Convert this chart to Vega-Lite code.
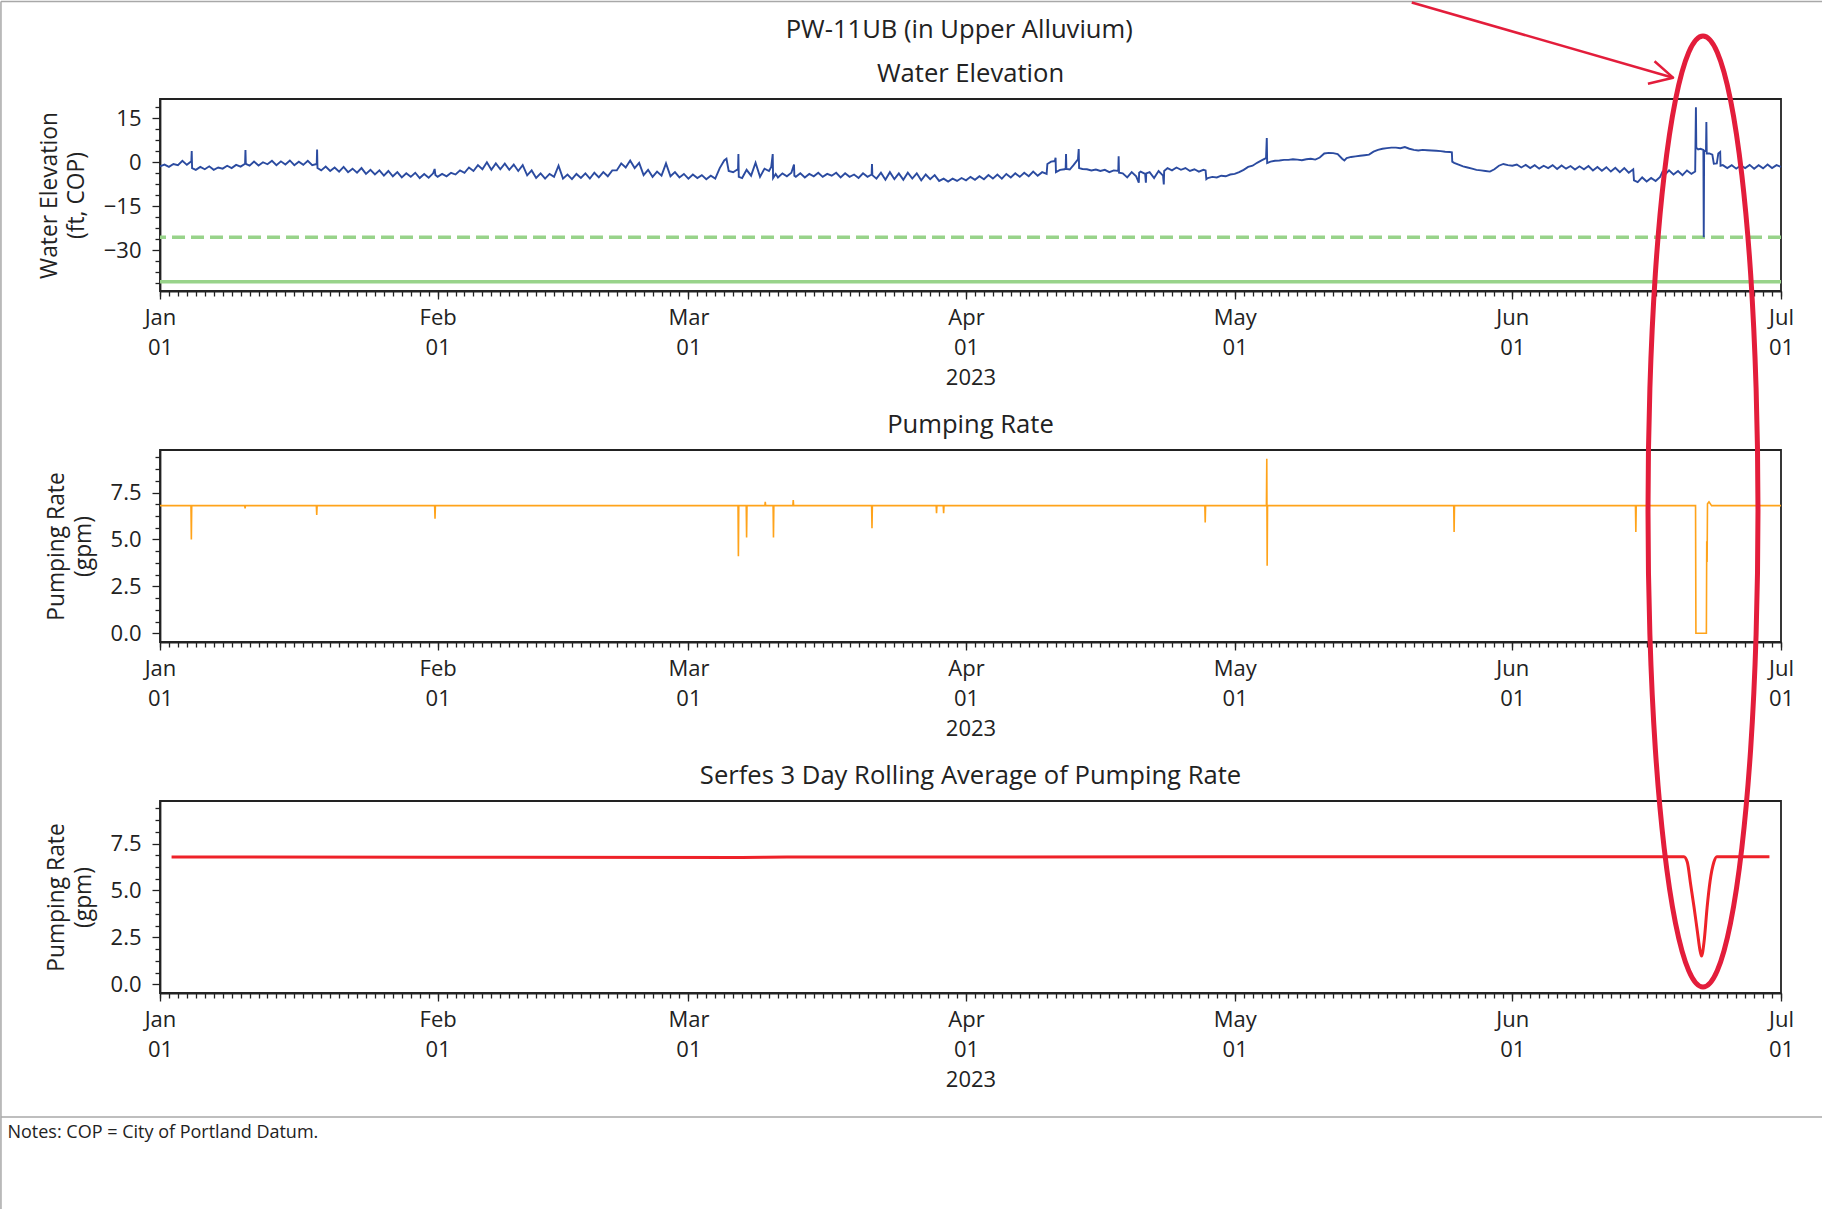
{
"$schema": "https://vega.github.io/schema/vega-lite/v6.json",
"padding": 0,
"background": "white",
"bounds": "flush",
"spacing": 159,
"resolve": {"scale": {"x": "independent", "y": "independent"}},
"datasets": {
"elev": [
{"t":"2023-01-01T00:00","v":-1.4},{"t":"2023-01-01T12:00","v":-0.8},
{"t":"2023-01-02T00:00","v":-1.6},{"t":"2023-01-02T12:00","v":-0.6},
{"t":"2023-01-03T00:00","v":-1.0},{"t":"2023-01-03T12:00","v":0.5},
{"t":"2023-01-04T00:00","v":-0.9},{"t":"2023-01-04T12:00","v":0.3},{"t":"2023-01-04T13:00","v":3.8},{"t":"2023-01-04T14:00","v":-2.0},
{"t":"2023-01-05T00:00","v":-2.6},{"t":"2023-01-05T12:00","v":-1.6},
{"t":"2023-01-06T00:00","v":-2.4},{"t":"2023-01-06T12:00","v":-1.4},
{"t":"2023-01-07T00:00","v":-2.6},{"t":"2023-01-07T12:00","v":-1.8},
{"t":"2023-01-08T00:00","v":-2.2},{"t":"2023-01-08T12:00","v":-1.2},
{"t":"2023-01-09T00:00","v":-2.0},{"t":"2023-01-09T12:00","v":-0.9},
{"t":"2023-01-10T00:00","v":-1.5},{"t":"2023-01-10T12:00","v":-0.5},{"t":"2023-01-10T13:00","v":4.2},{"t":"2023-01-10T14:00","v":-0.6},
{"t":"2023-01-11T00:00","v":-1.2},{"t":"2023-01-11T12:00","v":0.2},
{"t":"2023-01-12T00:00","v":-1.1},{"t":"2023-01-12T12:00","v":0.0},
{"t":"2023-01-13T00:00","v":-0.7},{"t":"2023-01-13T12:00","v":0.5},
{"t":"2023-01-14T00:00","v":-1.0},{"t":"2023-01-14T12:00","v":0.3},
{"t":"2023-01-15T00:00","v":-0.8},{"t":"2023-01-15T12:00","v":0.6},
{"t":"2023-01-16T00:00","v":-1.0},{"t":"2023-01-16T12:00","v":0.2},
{"t":"2023-01-17T00:00","v":-0.9},{"t":"2023-01-17T12:00","v":0.5},
{"t":"2023-01-18T00:00","v":-1.0},{"t":"2023-01-18T12:00","v":-0.6},{"t":"2023-01-18T13:00","v":4.3},{"t":"2023-01-18T14:00","v":-2.0},
{"t":"2023-01-19T00:00","v":-2.8},{"t":"2023-01-19T12:00","v":-1.5},
{"t":"2023-01-20T00:00","v":-3.0},{"t":"2023-01-20T12:00","v":-1.8},
{"t":"2023-01-21T00:00","v":-3.2},{"t":"2023-01-21T12:00","v":-1.6},
{"t":"2023-01-22T00:00","v":-3.4},{"t":"2023-01-22T12:00","v":-2.2},
{"t":"2023-01-23T00:00","v":-3.6},{"t":"2023-01-23T12:00","v":-2.0},
{"t":"2023-01-24T00:00","v":-4.0},{"t":"2023-01-24T12:00","v":-2.6},
{"t":"2023-01-25T00:00","v":-4.2},{"t":"2023-01-25T12:00","v":-2.8},
{"t":"2023-01-26T00:00","v":-4.6},{"t":"2023-01-26T12:00","v":-3.0},
{"t":"2023-01-27T00:00","v":-4.8},{"t":"2023-01-27T12:00","v":-3.4},
{"t":"2023-01-28T00:00","v":-5.2},{"t":"2023-01-28T12:00","v":-3.8},
{"t":"2023-01-29T00:00","v":-5.0},{"t":"2023-01-29T12:00","v":-3.6},
{"t":"2023-01-30T00:00","v":-5.4},{"t":"2023-01-30T12:00","v":-4.0},
{"t":"2023-01-31T00:00","v":-5.3},{"t":"2023-01-31T12:00","v":-3.8},{"t":"2023-01-31T16:00","v":-2.3},{"t":"2023-01-31T18:00","v":-4.4},
{"t":"2023-02-01T00:00","v":-5.0},{"t":"2023-02-01T12:00","v":-4.0},
{"t":"2023-02-02T00:00","v":-4.8},{"t":"2023-02-02T12:00","v":-3.6},
{"t":"2023-02-03T00:00","v":-4.2},{"t":"2023-02-03T12:00","v":-2.8},
{"t":"2023-02-04T00:00","v":-3.6},{"t":"2023-02-04T12:00","v":-1.8},
{"t":"2023-02-05T00:00","v":-3.0},{"t":"2023-02-05T12:00","v":-1.0},
{"t":"2023-02-06T00:00","v":-2.4},{"t":"2023-02-06T12:00","v":0.0},
{"t":"2023-02-07T00:00","v":-2.6},{"t":"2023-02-07T12:00","v":-0.4},
{"t":"2023-02-08T00:00","v":-2.4},{"t":"2023-02-08T12:00","v":-0.5},
{"t":"2023-02-09T00:00","v":-2.6},{"t":"2023-02-09T12:00","v":-0.8},
{"t":"2023-02-10T00:00","v":-3.0},{"t":"2023-02-10T12:00","v":-1.0},
{"t":"2023-02-11T00:00","v":-4.5},{"t":"2023-02-11T12:00","v":-2.8},
{"t":"2023-02-12T00:00","v":-5.4},{"t":"2023-02-12T12:00","v":-3.8},
{"t":"2023-02-13T00:00","v":-5.6},{"t":"2023-02-13T12:00","v":-4.0},
{"t":"2023-02-14T00:00","v":-5.0},{"t":"2023-02-14T12:00","v":-1.2},
{"t":"2023-02-15T00:00","v":-5.6},{"t":"2023-02-15T12:00","v":-4.2},
{"t":"2023-02-16T00:00","v":-5.8},{"t":"2023-02-16T12:00","v":-4.0},
{"t":"2023-02-17T00:00","v":-5.4},{"t":"2023-02-17T12:00","v":-3.8},
{"t":"2023-02-18T00:00","v":-5.6},{"t":"2023-02-18T12:00","v":-3.6},
{"t":"2023-02-19T00:00","v":-5.2},{"t":"2023-02-19T12:00","v":-3.4},
{"t":"2023-02-20T00:00","v":-4.8},{"t":"2023-02-20T12:00","v":-2.8},
{"t":"2023-02-21T00:00","v":-2.8},{"t":"2023-02-21T12:00","v":-0.4},
{"t":"2023-02-22T00:00","v":-1.8},{"t":"2023-02-22T12:00","v":0.6},
{"t":"2023-02-23T00:00","v":-2.0},{"t":"2023-02-23T12:00","v":-0.2},
{"t":"2023-02-24T00:00","v":-4.4},{"t":"2023-02-24T12:00","v":-2.6},
{"t":"2023-02-25T00:00","v":-5.0},{"t":"2023-02-25T12:00","v":-3.2},
{"t":"2023-02-26T00:00","v":-4.6},{"t":"2023-02-26T12:00","v":-0.4},
{"t":"2023-02-27T00:00","v":-4.8},{"t":"2023-02-27T12:00","v":-3.4},
{"t":"2023-02-28T00:00","v":-5.2},{"t":"2023-02-28T12:00","v":-4.0},
{"t":"2023-03-01T00:00","v":-5.6},{"t":"2023-03-01T12:00","v":-4.2},
{"t":"2023-03-02T00:00","v":-5.4},{"t":"2023-03-02T12:00","v":-4.4},
{"t":"2023-03-03T00:00","v":-5.8},{"t":"2023-03-03T12:00","v":-4.6},
{"t":"2023-03-04T00:00","v":-5.6},{"t":"2023-03-04T12:00","v":-2.0},
{"t":"2023-03-05T00:00","v":0.6},{"t":"2023-03-05T06:00","v":1.2},{"t":"2023-03-05T12:00","v":-3.0},
{"t":"2023-03-06T00:00","v":-3.4},{"t":"2023-03-06T12:00","v":-2.4},{"t":"2023-03-06T13:00","v":-2.6},{"t":"2023-03-06T14:00","v":2.8},{"t":"2023-03-06T15:00","v":-5.0},
{"t":"2023-03-07T00:00","v":-5.4},{"t":"2023-03-07T12:00","v":-2.6},
{"t":"2023-03-08T00:00","v":-4.6},{"t":"2023-03-08T12:00","v":-0.2},
{"t":"2023-03-09T00:00","v":-5.0},{"t":"2023-03-09T12:00","v":-2.2},
{"t":"2023-03-10T00:00","v":-3.0},{"t":"2023-03-10T06:00","v":-1.6},{"t":"2023-03-10T10:00","v":2.8},{"t":"2023-03-10T11:00","v":-5.4},{"t":"2023-03-10T18:00","v":-4.0},
{"t":"2023-03-11T00:00","v":-5.2},{"t":"2023-03-11T12:00","v":-3.8},
{"t":"2023-03-12T00:00","v":-4.8},{"t":"2023-03-12T12:00","v":-3.6},{"t":"2023-03-12T19:00","v":-0.8},{"t":"2023-03-12T20:00","v":-4.6},
{"t":"2023-03-13T00:00","v":-5.0},{"t":"2023-03-13T12:00","v":-3.8},
{"t":"2023-03-14T00:00","v":-5.2},{"t":"2023-03-14T12:00","v":-4.0},
{"t":"2023-03-15T00:00","v":-4.8},{"t":"2023-03-15T12:00","v":-3.6},
{"t":"2023-03-16T00:00","v":-5.0},{"t":"2023-03-16T12:00","v":-4.0},
{"t":"2023-03-17T00:00","v":-4.6},{"t":"2023-03-17T12:00","v":-3.6},
{"t":"2023-03-18T00:00","v":-5.2},{"t":"2023-03-18T12:00","v":-3.8},
{"t":"2023-03-19T00:00","v":-5.0},{"t":"2023-03-19T12:00","v":-4.2},
{"t":"2023-03-20T00:00","v":-5.4},{"t":"2023-03-20T12:00","v":-3.8},
{"t":"2023-03-21T00:00","v":-5.0},{"t":"2023-03-21T11:00","v":-4.2},{"t":"2023-03-21T12:00","v":-0.6},{"t":"2023-03-21T13:00","v":-4.4},
{"t":"2023-03-22T00:00","v":-5.6},{"t":"2023-03-22T12:00","v":-3.6},
{"t":"2023-03-23T00:00","v":-6.0},{"t":"2023-03-23T12:00","v":-3.4},
{"t":"2023-03-24T00:00","v":-5.8},{"t":"2023-03-24T12:00","v":-3.8},
{"t":"2023-03-25T00:00","v":-6.0},{"t":"2023-03-25T12:00","v":-3.6},
{"t":"2023-03-26T00:00","v":-5.6},{"t":"2023-03-26T12:00","v":-3.8},
{"t":"2023-03-27T00:00","v":-6.2},{"t":"2023-03-27T12:00","v":-4.2},
{"t":"2023-03-28T00:00","v":-5.8},{"t":"2023-03-28T12:00","v":-4.4},
{"t":"2023-03-29T00:00","v":-6.4},{"t":"2023-03-29T12:00","v":-5.6},
{"t":"2023-03-30T00:00","v":-6.6},{"t":"2023-03-30T12:00","v":-5.6},
{"t":"2023-03-31T00:00","v":-6.4},{"t":"2023-03-31T12:00","v":-5.4},
{"t":"2023-04-01T00:00","v":-6.2},{"t":"2023-04-01T12:00","v":-5.0},
{"t":"2023-04-02T00:00","v":-6.0},{"t":"2023-04-02T12:00","v":-4.8},
{"t":"2023-04-03T00:00","v":-5.8},{"t":"2023-04-03T12:00","v":-4.4},
{"t":"2023-04-04T00:00","v":-5.6},{"t":"2023-04-04T12:00","v":-4.2},
{"t":"2023-04-05T00:00","v":-5.6},{"t":"2023-04-05T12:00","v":-4.0},
{"t":"2023-04-06T00:00","v":-5.2},{"t":"2023-04-06T12:00","v":-3.8},
{"t":"2023-04-07T00:00","v":-5.0},{"t":"2023-04-07T12:00","v":-3.6},
{"t":"2023-04-08T00:00","v":-4.8},{"t":"2023-04-08T12:00","v":-3.2},
{"t":"2023-04-09T00:00","v":-4.6},{"t":"2023-04-09T12:00","v":-3.4},
{"t":"2023-04-10T00:00","v":-4.0},{"t":"2023-04-10T02:00","v":-0.6},{"t":"2023-04-10T12:00","v":0.2},{"t":"2023-04-10T22:00","v":0.4},
{"t":"2023-04-11T00:00","v":1.5},{"t":"2023-04-11T01:00","v":-3.4},{"t":"2023-04-11T12:00","v":-2.6},
{"t":"2023-04-12T00:00","v":-2.4},{"t":"2023-04-12T03:00","v":-2.2},{"t":"2023-04-12T04:00","v":2.8},{"t":"2023-04-12T05:00","v":-2.3},{"t":"2023-04-12T14:00","v":-2.5},
{"t":"2023-04-13T00:00","v":-1.0},{"t":"2023-04-13T12:00","v":1.0},{"t":"2023-04-13T14:00","v":4.5},{"t":"2023-04-13T15:00","v":-2.0},
{"t":"2023-04-14T00:00","v":-2.3},{"t":"2023-04-14T12:00","v":-2.4},
{"t":"2023-04-15T00:00","v":-2.8},{"t":"2023-04-15T12:00","v":-2.5},
{"t":"2023-04-16T00:00","v":-3.0},{"t":"2023-04-16T12:00","v":-2.6},
{"t":"2023-04-17T00:00","v":-3.4},{"t":"2023-04-17T12:00","v":-2.8},
{"t":"2023-04-18T00:00","v":-3.0},{"t":"2023-04-18T01:00","v":2.0},{"t":"2023-04-18T02:00","v":-3.6},{"t":"2023-04-18T12:00","v":-3.8},
{"t":"2023-04-19T00:00","v":-5.2},{"t":"2023-04-19T12:00","v":-3.4},
{"t":"2023-04-20T00:00","v":-4.8},{"t":"2023-04-20T07:00","v":-7.0},{"t":"2023-04-20T08:00","v":-3.6},{"t":"2023-04-20T12:00","v":-3.2},
{"t":"2023-04-21T00:00","v":-4.0},{"t":"2023-04-21T02:00","v":-7.0},{"t":"2023-04-21T03:00","v":-3.8},{"t":"2023-04-21T12:00","v":-3.4},
{"t":"2023-04-22T00:00","v":-5.4},{"t":"2023-04-22T12:00","v":-3.0},
{"t":"2023-04-23T00:00","v":-4.6},{"t":"2023-04-23T02:00","v":-7.6},{"t":"2023-04-23T03:00","v":-3.0},{"t":"2023-04-23T12:00","v":-2.0},
{"t":"2023-04-24T00:00","v":-2.8},{"t":"2023-04-24T12:00","v":-1.8},
{"t":"2023-04-25T00:00","v":-2.6},{"t":"2023-04-25T12:00","v":-2.0},
{"t":"2023-04-26T00:00","v":-3.0},{"t":"2023-04-26T12:00","v":-2.4},
{"t":"2023-04-27T00:00","v":-3.2},{"t":"2023-04-27T12:00","v":-2.6},{"t":"2023-04-27T18:00","v":-2.8},{"t":"2023-04-27T20:00","v":-5.8},
{"t":"2023-04-28T00:00","v":-5.4},{"t":"2023-04-28T12:00","v":-5.0},
{"t":"2023-04-29T00:00","v":-5.2},{"t":"2023-04-29T12:00","v":-4.6},
{"t":"2023-04-30T00:00","v":-4.8},{"t":"2023-04-30T12:00","v":-4.2},
{"t":"2023-05-01T00:00","v":-4.0},{"t":"2023-05-01T12:00","v":-3.4},
{"t":"2023-05-02T00:00","v":-2.6},{"t":"2023-05-02T12:00","v":-1.6},
{"t":"2023-05-03T00:00","v":-1.2},{"t":"2023-05-03T12:00","v":-0.2},
{"t":"2023-05-04T00:00","v":0.6},{"t":"2023-05-04T12:00","v":1.4},{"t":"2023-05-04T14:00","v":8.3},{"t":"2023-05-04T15:00","v":-0.3},
{"t":"2023-05-05T00:00","v":0.2},{"t":"2023-05-05T12:00","v":0.5},
{"t":"2023-05-06T00:00","v":0.6},{"t":"2023-05-06T12:00","v":0.8},
{"t":"2023-05-07T00:00","v":0.8},{"t":"2023-05-07T12:00","v":1.0},
{"t":"2023-05-08T00:00","v":0.9},{"t":"2023-05-08T12:00","v":0.7},
{"t":"2023-05-09T00:00","v":1.0},{"t":"2023-05-09T12:00","v":1.2},
{"t":"2023-05-10T00:00","v":0.9},{"t":"2023-05-10T12:00","v":1.6},
{"t":"2023-05-11T00:00","v":3.0},{"t":"2023-05-11T12:00","v":3.2},
{"t":"2023-05-12T00:00","v":3.1},{"t":"2023-05-12T12:00","v":2.8},
{"t":"2023-05-13T00:00","v":1.2},{"t":"2023-05-13T06:00","v":0.6},{"t":"2023-05-13T12:00","v":1.4},
{"t":"2023-05-14T00:00","v":1.8},{"t":"2023-05-14T12:00","v":2.0},
{"t":"2023-05-15T00:00","v":2.2},{"t":"2023-05-15T12:00","v":2.4},
{"t":"2023-05-16T00:00","v":2.6},{"t":"2023-05-16T12:00","v":3.6},
{"t":"2023-05-17T00:00","v":4.2},{"t":"2023-05-17T12:00","v":4.6},
{"t":"2023-05-18T00:00","v":4.8},{"t":"2023-05-18T12:00","v":5.0},
{"t":"2023-05-19T00:00","v":5.0},{"t":"2023-05-19T12:00","v":4.8},
{"t":"2023-05-20T00:00","v":5.2},{"t":"2023-05-20T12:00","v":4.6},
{"t":"2023-05-21T00:00","v":4.2},{"t":"2023-05-21T12:00","v":4.0},
{"t":"2023-05-22T00:00","v":4.2},{"t":"2023-05-22T12:00","v":4.1},
{"t":"2023-05-23T00:00","v":4.0},{"t":"2023-05-23T12:00","v":3.9},
{"t":"2023-05-24T00:00","v":3.8},{"t":"2023-05-24T12:00","v":3.6},
{"t":"2023-05-25T00:00","v":3.5},{"t":"2023-05-25T06:00","v":3.4},{"t":"2023-05-25T07:00","v":0.2},{"t":"2023-05-25T12:00","v":-0.2},
{"t":"2023-05-26T00:00","v":-0.8},{"t":"2023-05-26T12:00","v":-1.4},
{"t":"2023-05-27T00:00","v":-1.8},{"t":"2023-05-27T12:00","v":-2.2},
{"t":"2023-05-28T00:00","v":-2.6},{"t":"2023-05-28T12:00","v":-2.8},
{"t":"2023-05-29T00:00","v":-3.0},{"t":"2023-05-29T12:00","v":-3.2},
{"t":"2023-05-30T00:00","v":-2.4},{"t":"2023-05-30T12:00","v":-1.2},
{"t":"2023-05-31T00:00","v":-0.6},{"t":"2023-05-31T12:00","v":-1.0},
{"t":"2023-06-01T00:00","v":-1.2},{"t":"2023-06-01T12:00","v":-0.8},
{"t":"2023-06-02T00:00","v":-1.8},{"t":"2023-06-02T12:00","v":-0.9},
{"t":"2023-06-03T00:00","v":-2.0},{"t":"2023-06-03T12:00","v":-1.0},
{"t":"2023-06-04T00:00","v":-2.2},{"t":"2023-06-04T12:00","v":-1.2},
{"t":"2023-06-05T00:00","v":-2.0},{"t":"2023-06-05T12:00","v":-1.0},
{"t":"2023-06-06T00:00","v":-2.3},{"t":"2023-06-06T12:00","v":-1.1},
{"t":"2023-06-07T00:00","v":-2.2},{"t":"2023-06-07T12:00","v":-1.3},
{"t":"2023-06-08T00:00","v":-2.5},{"t":"2023-06-08T12:00","v":-1.4},
{"t":"2023-06-09T00:00","v":-2.4},{"t":"2023-06-09T12:00","v":-1.3},
{"t":"2023-06-10T00:00","v":-2.8},{"t":"2023-06-10T12:00","v":-1.6},
{"t":"2023-06-11T00:00","v":-2.9},{"t":"2023-06-11T12:00","v":-1.7},
{"t":"2023-06-12T00:00","v":-3.2},{"t":"2023-06-12T12:00","v":-1.9},
{"t":"2023-06-13T00:00","v":-3.4},{"t":"2023-06-13T12:00","v":-2.0},
{"t":"2023-06-14T00:00","v":-3.6},{"t":"2023-06-14T12:00","v":-2.4},{"t":"2023-06-14T14:00","v":-6.2},
{"t":"2023-06-15T00:00","v":-6.8},{"t":"2023-06-15T12:00","v":-5.2},
{"t":"2023-06-16T00:00","v":-6.6},{"t":"2023-06-16T12:00","v":-5.4},
{"t":"2023-06-17T00:00","v":-6.4},{"t":"2023-06-17T12:00","v":-5.0},{"t":"2023-06-17T18:00","v":-3.4},
{"t":"2023-06-18T00:00","v":-4.4},{"t":"2023-06-18T12:00","v":-2.8},
{"t":"2023-06-19T00:00","v":-4.2},{"t":"2023-06-19T12:00","v":-3.0},
{"t":"2023-06-20T00:00","v":-4.4},{"t":"2023-06-20T12:00","v":-2.8},
{"t":"2023-06-21T00:00","v":-4.0},{"t":"2023-06-21T10:00","v":-3.2},{"t":"2023-06-21T12:00","v":18.8},{"t":"2023-06-21T13:00","v":5.0},{"t":"2023-06-21T18:00","v":4.4},
{"t":"2023-06-22T00:00","v":4.6},{"t":"2023-06-22T08:00","v":4.2},{"t":"2023-06-22T09:00","v":-25.6},{"t":"2023-06-22T10:00","v":3.8},{"t":"2023-06-22T15:00","v":4.0},{"t":"2023-06-22T16:00","v":13.7},{"t":"2023-06-22T17:00","v":3.0},
{"t":"2023-06-23T00:00","v":3.0},{"t":"2023-06-23T08:00","v":2.6},{"t":"2023-06-23T12:00","v":-0.5},{"t":"2023-06-23T20:00","v":-0.4},
{"t":"2023-06-24T00:00","v":3.0},{"t":"2023-06-24T05:00","v":3.5},{"t":"2023-06-24T06:00","v":-1.2},{"t":"2023-06-24T12:00","v":-1.0},
{"t":"2023-06-25T00:00","v":-2.0},{"t":"2023-06-25T12:00","v":-1.0},
{"t":"2023-06-26T00:00","v":-2.2},{"t":"2023-06-26T12:00","v":-1.1},
{"t":"2023-06-27T00:00","v":-2.0},{"t":"2023-06-27T12:00","v":-0.9},
{"t":"2023-06-28T00:00","v":-2.2},{"t":"2023-06-28T12:00","v":-1.0},
{"t":"2023-06-29T00:00","v":-2.1},{"t":"2023-06-29T12:00","v":-0.8},
{"t":"2023-06-30T00:00","v":-2.0},{"t":"2023-06-30T12:00","v":-1.0},
{"t":"2023-07-01T00:00","v":-1.6}
],
"pump": [
{"t":"2023-01-01T00:00","v":6.8},
{"t":"2023-01-04T11:00","v":6.8},{"t":"2023-01-04T12:00","v":5.0},{"t":"2023-01-04T13:00","v":6.8},
{"t":"2023-01-10T11:00","v":6.8},{"t":"2023-01-10T12:00","v":6.65},{"t":"2023-01-10T13:00","v":6.8},
{"t":"2023-01-18T11:00","v":6.8},{"t":"2023-01-18T12:00","v":6.3},{"t":"2023-01-18T13:00","v":6.8},
{"t":"2023-01-31T16:00","v":6.8},{"t":"2023-01-31T17:00","v":6.1},{"t":"2023-01-31T18:00","v":6.8},
{"t":"2023-03-06T13:00","v":6.8},{"t":"2023-03-06T14:00","v":4.1},{"t":"2023-03-06T15:00","v":6.8},
{"t":"2023-03-07T11:00","v":6.8},{"t":"2023-03-07T12:00","v":5.1},{"t":"2023-03-07T13:00","v":6.8},
{"t":"2023-03-09T13:00","v":6.8},{"t":"2023-03-09T14:00","v":7.0},{"t":"2023-03-09T15:00","v":6.8},
{"t":"2023-03-10T11:00","v":6.8},{"t":"2023-03-10T12:00","v":5.1},{"t":"2023-03-10T13:00","v":6.8},
{"t":"2023-03-12T16:00","v":6.8},{"t":"2023-03-12T17:00","v":7.1},{"t":"2023-03-12T18:00","v":6.8},
{"t":"2023-03-21T11:00","v":6.8},{"t":"2023-03-21T12:00","v":5.6},{"t":"2023-03-21T13:00","v":6.8},
{"t":"2023-03-28T16:00","v":6.8},{"t":"2023-03-28T17:00","v":6.4},{"t":"2023-03-28T18:00","v":6.8},
{"t":"2023-03-29T11:00","v":6.8},{"t":"2023-03-29T12:00","v":6.4},{"t":"2023-03-29T13:00","v":6.8},
{"t":"2023-04-27T16:00","v":6.8},{"t":"2023-04-27T17:00","v":5.9},{"t":"2023-04-27T18:00","v":6.8},
{"t":"2023-05-04T13:00","v":6.8},{"t":"2023-05-04T14:00","v":9.3},{"t":"2023-05-04T15:00","v":3.6},{"t":"2023-05-04T16:00","v":6.8},
{"t":"2023-05-25T11:00","v":6.8},{"t":"2023-05-25T12:00","v":5.4},{"t":"2023-05-25T13:00","v":6.8},
{"t":"2023-06-14T18:00","v":6.8},{"t":"2023-06-14T19:00","v":5.4},{"t":"2023-06-14T20:00","v":6.8},
{"t":"2023-06-21T11:00","v":6.8},{"t":"2023-06-21T12:00","v":0.0},{"t":"2023-06-22T16:00","v":0.0},{"t":"2023-06-22T17:00","v":4.9},{"t":"2023-06-22T18:00","v":3.8},{"t":"2023-06-22T19:00","v":6.9},{"t":"2023-06-22T23:00","v":7.0},{"t":"2023-06-23T06:00","v":6.8},
{"t":"2023-07-01T00:00","v":6.8}
],
"roll": [
{"t":"2023-01-02T07:00","v":6.78},
{"t":"2023-03-07T00:00","v":6.76},
{"t":"2023-03-12T00:00","v":6.78},
{"t":"2023-06-20T04:00","v":6.8},
{"t":"2023-06-20T13:00","v":6.5},
{"t":"2023-06-20T22:00","v":5.3},
{"t":"2023-06-21T07:00","v":4.1},
{"t":"2023-06-21T16:00","v":2.8},
{"t":"2023-06-21T23:00","v":1.8},
{"t":"2023-06-22T03:00","v":1.5},
{"t":"2023-06-22T10:00","v":2.3},
{"t":"2023-06-22T18:00","v":4.1},
{"t":"2023-06-23T02:00","v":5.5},
{"t":"2023-06-23T12:00","v":6.5},
{"t":"2023-06-23T20:00","v":6.8},
{"t":"2023-06-29T17:00","v":6.8}
],
"frame": [
{"g":"left","k":0,"t":"2022-12-14T05:46","v":54.91},{"g":"left","k":1,"t":"2022-12-14T05:46","v":-357.66},
{"g":"top","k":0,"t":"2022-12-14T05:46","v":54.91},{"g":"top","k":1,"t":"2023-07-05T13:55","v":54.91},
{"g":"sep","k":0,"t":"2022-12-14T05:46","v":-326.22},{"g":"sep","k":1,"t":"2023-07-05T13:55","v":-326.22}
],
"arrow": [
{"g":"shaft","k":0,"t":"2023-05-20T18:29","v":54.57},{"g":"shaft","k":1,"t":"2023-06-18T22:48","v":28.88},
{"g":"head","k":0,"t":"2023-06-16T21:07","v":34.48},{"g":"head","k":1,"t":"2023-06-18T22:48","v":28.88},{"g":"head","k":2,"t":"2023-06-16T03:22","v":26.83}
],
"ellipse": [
{"k":0,"t":"2023-06-28T10:19","v":-119.33},
{"k":1,"t":"2023-06-28T05:17","v":-77.29},
{"k":2,"t":"2023-06-27T14:38","v":-38.10},
{"k":3,"t":"2023-06-26T15:07","v":-4.46},
{"k":4,"t":"2023-06-25T08:38","v":21.35},
{"k":5,"t":"2023-06-23T21:07","v":37.58},
{"k":6,"t":"2023-06-22T06:58","v":43.12},
{"k":7,"t":"2023-06-20T16:48","v":37.58},
{"k":8,"t":"2023-06-19T05:17","v":21.35},
{"k":9,"t":"2023-06-17T22:48","v":-4.46},
{"k":10,"t":"2023-06-16T23:17","v":-38.10},
{"k":11,"t":"2023-06-16T08:38","v":-77.29},
{"k":12,"t":"2023-06-16T03:36","v":-119.33},
{"k":13,"t":"2023-06-16T08:38","v":-161.37},
{"k":14,"t":"2023-06-16T23:17","v":-200.56},
{"k":15,"t":"2023-06-17T22:48","v":-234.20},
{"k":16,"t":"2023-06-19T05:17","v":-260.01},
{"k":17,"t":"2023-06-20T16:48","v":-276.24},
{"k":18,"t":"2023-06-22T06:58","v":-281.78},
{"k":19,"t":"2023-06-23T21:07","v":-276.24},
{"k":20,"t":"2023-06-25T08:38","v":-260.01},
{"k":21,"t":"2023-06-26T15:07","v":-234.20},
{"k":22,"t":"2023-06-27T14:38","v":-200.56},
{"k":23,"t":"2023-06-28T05:17","v":-161.37}
],
"notes": [
{"t":"2022-12-14T23:10","v":-331.52,"label":"Notes: COP = City of Portland Datum."}
],
"heading": [
{"t":"2023-03-31T05:46","v":45.0,"label":"PW-11UB (in Upper Alluvium)"}
]
},
"vconcat": [
{
"width": 1621, "height": 192,
"title": "Water Elevation",
"resolve": {"axis": {"x": "independent", "y": "independent"}},
"layer": [
{"data": {"values": [{"level": -40.8}]}, "mark": {"type": "rule", "color": "#98d38a", "strokeWidth": 3.5}, "encoding": {"y": {"field": "level", "type": "quantitative", "axis": null}}},
{"data": {"values": [{"level": -25.6}]}, "mark": {"type": "rule", "color": "#98d38a", "strokeWidth": 3.5, "strokeDash": [13, 6]}, "encoding": {"y": {"field": "level", "type": "quantitative", "axis": null}}},
{"data": {"name": "elev"}, "mark": {"type": "line", "color": "#2b4ba0", "strokeWidth": 1.9},
 "encoding": {
  "x": {"field": "t", "type": "temporal", "scale": {"domain": [{"year": 2023, "month": 1, "date": 1}, {"year": 2023, "month": 7, "date": 1}], "nice": false},
   "axis": {"orient": "bottom", "title": "2023", "values": [{"year": 2023, "month": 1, "date": 1}, {"year": 2023, "month": 2, "date": 1}, {"year": 2023, "month": 3, "date": 1}, {"year": 2023, "month": 4, "date": 1}, {"year": 2023, "month": 5, "date": 1}, {"year": 2023, "month": 6, "date": 1}, {"year": 2023, "month": 7, "date": 1}], "labelExpr": "[timeFormat(datum.value, '%b'), timeFormat(datum.value, '%d')]", "tickSize": 8, "labelOverlap": false, "labelFlush": false, "labelBound": false, "labelPadding": 8, "labelLineHeight": 30, "titlePadding": 9, "titleFontSize": 22}},
  "y": {"field": "v", "type": "quantitative", "scale": {"domain": [-44, 21.6], "nice": false, "zero": false},
   "axis": {"orient": "left", "title": ["Water Elevation", "(ft, COP)"], "values": [-30, -15, 0, 15], "format": "d", "tickSize": 8, "labelOverlap": false, "labelPadding": 11, "titlePadding": 15, "titleLineHeight": 27}}
 }},
{"data": {"name": "elev"}, "mark": {"type": "line", "opacity": 0},
 "encoding": {
  "x": {"field": "t", "type": "temporal", "scale": {"domain": [{"year": 2023, "month": 1, "date": 1}, {"year": 2023, "month": 7, "date": 1}], "nice": false},
   "axis": {"orient": "bottom", "title": null, "tickCount": {"interval": "day", "step": 1}, "labels": false, "domain": false, "tickSize": 5}},
  "y": {"field": "v", "type": "quantitative",
   "axis": {"orient": "left", "title": null, "values": [-41.25,-37.5,-33.75,-26.25,-22.5,-18.75,-11.25,-7.5,-3.75,3.75,7.5,11.25,18.75], "labels": false, "domain": false, "tickSize": 5}}
 }}
]
},
{
"width": 1621, "height": 192,
"title": "Pumping Rate",
"data": {"name": "pump"},
"resolve": {"axis": {"x": "independent", "y": "independent"}},
"layer": [
{"mark": {"type": "line", "color": "#ffa31a", "strokeWidth": 1.6},
 "encoding": {
  "x": {"field": "t", "type": "temporal", "scale": {"domain": [{"year": 2023, "month": 1, "date": 1}, {"year": 2023, "month": 7, "date": 1}], "nice": false},
   "axis": {"orient": "bottom", "title": "2023", "values": [{"year": 2023, "month": 1, "date": 1}, {"year": 2023, "month": 2, "date": 1}, {"year": 2023, "month": 3, "date": 1}, {"year": 2023, "month": 4, "date": 1}, {"year": 2023, "month": 5, "date": 1}, {"year": 2023, "month": 6, "date": 1}, {"year": 2023, "month": 7, "date": 1}], "labelExpr": "[timeFormat(datum.value, '%b'), timeFormat(datum.value, '%d')]", "tickSize": 8, "labelOverlap": false, "labelFlush": false, "labelBound": false, "labelPadding": 8, "labelLineHeight": 30, "titlePadding": 9, "titleFontSize": 22}},
  "y": {"field": "v", "type": "quantitative", "scale": {"domain": [-0.465, 9.765], "nice": false, "zero": false},
   "axis": {"orient": "left", "title": ["Pumping Rate", "(gpm)"], "values": [0, 2.5, 5, 7.5], "format": ".1f", "tickSize": 8, "labelOverlap": false, "labelPadding": 11, "titlePadding": 15, "titleLineHeight": 27}}
 }},
{"mark": {"type": "line", "opacity": 0},
 "encoding": {
  "x": {"field": "t", "type": "temporal", "scale": {"domain": [{"year": 2023, "month": 1, "date": 1}, {"year": 2023, "month": 7, "date": 1}], "nice": false},
   "axis": {"orient": "bottom", "title": null, "tickCount": {"interval": "day", "step": 1}, "labels": false, "domain": false, "tickSize": 5}},
  "y": {"field": "v", "type": "quantitative",
   "axis": {"orient": "left", "title": null, "values": [0.625,1.25,1.875,3.125,3.75,4.375,5.625,6.25,6.875,8.125,8.75,9.375], "labels": false, "domain": false, "tickSize": 5}}
 }}
]
},
{
"width": 1621, "height": 192,
"title": "Serfes 3 Day Rolling Average of Pumping Rate",
"data": {"name": "roll"},
"resolve": {"axis": {"x": "independent", "y": "independent"}},
"layer": [
{"mark": {"type": "line", "color": "#ee2229", "strokeWidth": 3, "interpolate": "monotone"},
 "encoding": {
  "x": {"field": "t", "type": "temporal", "scale": {"domain": [{"year": 2023, "month": 1, "date": 1}, {"year": 2023, "month": 7, "date": 1}], "nice": false},
   "axis": {"orient": "bottom", "title": "2023", "values": [{"year": 2023, "month": 1, "date": 1}, {"year": 2023, "month": 2, "date": 1}, {"year": 2023, "month": 3, "date": 1}, {"year": 2023, "month": 4, "date": 1}, {"year": 2023, "month": 5, "date": 1}, {"year": 2023, "month": 6, "date": 1}, {"year": 2023, "month": 7, "date": 1}], "labelExpr": "[timeFormat(datum.value, '%b'), timeFormat(datum.value, '%d')]", "tickSize": 8, "labelOverlap": false, "labelFlush": false, "labelBound": false, "labelPadding": 8, "labelLineHeight": 30, "titlePadding": 9, "titleFontSize": 22}},
  "y": {"field": "v", "type": "quantitative", "scale": {"domain": [-0.465, 9.765], "nice": false, "zero": false},
   "axis": {"orient": "left", "title": ["Pumping Rate", "(gpm)"], "values": [0, 2.5, 5, 7.5], "format": ".1f", "tickSize": 8, "labelOverlap": false, "labelPadding": 11, "titlePadding": 15, "titleLineHeight": 27}}
 }},
{"mark": {"type": "line", "opacity": 0},
 "encoding": {
  "x": {"field": "t", "type": "temporal", "scale": {"domain": [{"year": 2023, "month": 1, "date": 1}, {"year": 2023, "month": 7, "date": 1}], "nice": false},
   "axis": {"orient": "bottom", "title": null, "tickCount": {"interval": "day", "step": 1}, "labels": false, "domain": false, "tickSize": 5}},
  "y": {"field": "v", "type": "quantitative",
   "axis": {"orient": "left", "title": null, "values": [0.625,1.25,1.875,3.125,3.75,4.375,5.625,6.25,6.875,8.125,8.75,9.375], "labels": false, "domain": false, "tickSize": 5}}
 }}
]
},
{
"width": 1621, "height": 60,
"view": {"stroke": null},
"layer": [
{"data": {"name": "frame"}, "mark": {"type": "line", "color": "#a8a8a8", "strokeWidth": 1.5, "strokeJoin": "round"},
 "encoding": {
  "x": {"field": "t", "type": "temporal", "scale": {"domain": [{"year": 2023, "month": 1, "date": 1}, {"year": 2023, "month": 7, "date": 1}], "nice": false}, "axis": null},
  "y": {"field": "v", "type": "quantitative", "scale": {"domain": [-358.68, -338.18], "nice": false, "zero": false}, "axis": null},
  "detail": {"field": "g"},
  "order": {"field": "k", "type": "quantitative"}
 }},
{"data": {"name": "arrow"}, "mark": {"type": "line", "color": "#e31d3b", "strokeWidth": 2.5, "strokeJoin": "round"},
 "encoding": {
  "x": {"field": "t", "type": "temporal"},
  "y": {"field": "v", "type": "quantitative"},
  "detail": {"field": "g"},
  "order": {"field": "k", "type": "quantitative"}
 }},
{"data": {"name": "ellipse"}, "mark": {"type": "line", "color": "#e31d3b", "strokeWidth": 5, "strokeJoin": "round", "interpolate": "cardinal-closed"},
 "encoding": {
  "x": {"field": "t", "type": "temporal"},
  "y": {"field": "v", "type": "quantitative"},
  "order": {"field": "k", "type": "quantitative"}
 }},
{"data": {"name": "notes"}, "mark": {"type": "text", "align": "left", "baseline": "middle", "fontSize": 18, "color": "#222222", "font": "Open Sans"},
 "encoding": {
  "x": {"field": "t", "type": "temporal"},
  "y": {"field": "v", "type": "quantitative"},
  "text": {"field": "label"}
 }},
{"data": {"name": "heading"}, "mark": {"type": "text", "align": "center", "baseline": "middle", "fontSize": 25.6, "color": "#222222", "font": "Open Sans"},
 "encoding": {
  "x": {"field": "t", "type": "temporal"},
  "y": {"field": "v", "type": "quantitative"},
  "text": {"field": "label"}
 }}
]
}
],
"config": {
 "font": "Open Sans",
 "view": {"stroke": "#222222", "strokeWidth": 1.8},
 "axis": {"grid": false, "domainColor": "#222222", "domainWidth": 1.8, "tickColor": "#222222", "tickWidth": 1.3, "labelColor": "#222222", "labelFont": "Open Sans", "labelFontSize": 22, "titleFont": "Open Sans", "titleFontSize": 22.8, "titleFontWeight": "normal", "titleColor": "#222222"},
 "title": {"font": "Open Sans", "fontSize": 25.6, "fontWeight": "normal", "color": "#222222", "anchor": "middle", "frame": "group", "offset": 11}
}
}
